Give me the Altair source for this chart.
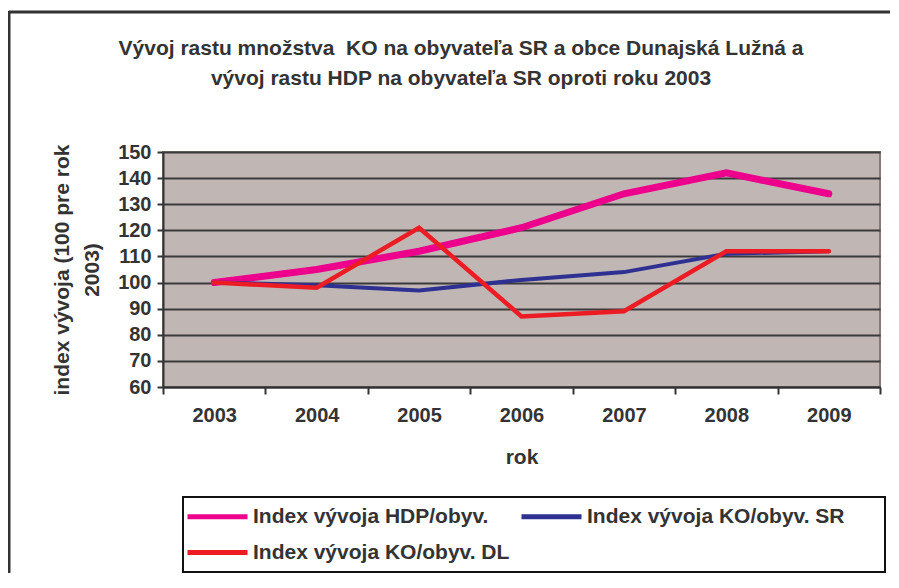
import altair as alt
import pandas as pd

years = ["2003", "2004", "2005", "2006", "2007", "2008", "2009"]
series_names = ["Index vývoja HDP/obyv.", "Index vývoja KO/obyv. SR", "Index vývoja KO/obyv. DL"]
hdp = [100, 105, 112, 121, 134, 142, 134]
ko_sr = [100, 99, 97, 101, 104, 111, 112]
ko_dl = [100, 98, 121, 87, 89, 112, 112]
y_ticks = [60, 70, 80, 90, 100, 110, 120, 130, 140, 150]
colors = ["#EC008C", "#2E3192", "#ED1C24"]
widths = [7, 4, 4.5]
title_lines = ["Vývoj rastu množstva \u00a0KO na obyvateľa SR a obce Dunajská Lužná a",
               "vývoj rastu HDP na obyvateľa SR oproti roku 2003"]

rows = []
for name, vals, w in zip(series_names, [hdp, ko_sr, ko_dl], widths):
    for yr, v in zip(years, vals):
        rows.append({"rok": yr, "value": v, "series": name, "w": w})
df = pd.DataFrame(rows)

FONT = "Liberation Sans"
W, H = 717, 235
PL, PT, PR, PB = 155, 144, 10, 186
TXT = "#333333"

lines = alt.Chart(df).mark_line(strokeCap="round", strokeJoin="miter").encode(
    x=alt.X("rok:O", bandPosition=0.5,
            scale=alt.Scale(type="band", paddingInner=0, paddingOuter=0),
            axis=alt.Axis(title="rok", labelAngle=0, tickBand="extent", tickSize=7,
                          labelFontSize=20, labelPadding=11, titlePadding=21, grid=False)),
    y=alt.Y("value:Q", scale=alt.Scale(domain=[60, 150], nice=False, zero=False),
            axis=alt.Axis(title=["index vývoja (100 pre rok", "2003)"], values=y_ticks,
                          labelFontSize=20, tickSize=6, labelPadding=6, titlePadding=15,
                          titleLineHeight=30, grid=True)),
    color=alt.Color("series:N",
                    scale=alt.Scale(domain=series_names, range=colors),
                    legend=alt.Legend(title=None, orient="none", legendX=22, legendY=352,
                                      direction="horizontal",
                                      columns=2, symbolType="M-1,0H5", symbolSize=400,
                                      symbolStrokeWidth=5,
                                      columnPadding=1, rowPadding=13, labelOffset=43,
                                      labelFontSize=21, labelFont=FONT, labelFontWeight="bold",
                                      labelColor=TXT, padding=0, labelLimit=400)),
    strokeWidth=alt.StrokeWidth("w:Q", scale=None, legend=None),
)

one = pd.DataFrame({"k": [0]})
legend_box = alt.Chart(one).mark_rect(fill=None, stroke="#111111", strokeWidth=2).encode(
    x=alt.value(20), x2=alt.value(722), y=alt.value(345), y2=alt.value(420))
frame_top = alt.Chart(one).mark_rule(color="#333333", strokeWidth=3).encode(
    x=alt.value(-154), x2=alt.value(W + PR), y=alt.value(-140))
frame_left = alt.Chart(one).mark_rule(color="#333333", strokeWidth=3).encode(
    x=alt.value(-154), y=alt.value(-141), y2=alt.value(H + PB))
title_df = pd.DataFrame({"t": title_lines, "i": [0, 1]})
title = alt.Chart(title_df).mark_text(
    font=FONT, fontSize=21, fontWeight="bold", color=TXT, align="center", baseline="middle"
).encode(
    text="t:N",
    x=alt.value(461 - 163),
    y=alt.Y("i:O", scale=alt.Scale(type="point", padding=0, range=[49 - 152, 79 - 152]), axis=None),
)

chart = alt.layer(lines, legend_box, frame_top, frame_left, title).resolve_scale(
    y="independent"
).properties(
    width=W, height=H,
    autosize=alt.AutoSizeParams(type="none"),
    padding={"left": PL, "top": PT, "right": PR, "bottom": PB},
).configure_view(
    fill="#C0B7B4", stroke="#857A77", strokeWidth=2,
).configure_axis(
    labelFont=FONT, labelFontSize=20, labelFontWeight="bold", labelColor=TXT,
    titleFont=FONT, titleFontSize=21, titleFontWeight="bold", titleColor=TXT,
    domainColor="#333333", domainWidth=2, tickColor="#333333", tickWidth=2,
    gridColor="#3A3A3A", gridWidth=2, gridOpacity=1,
)

chart.save("out.html", embed_options={"renderer": "svg", "actions": False})
